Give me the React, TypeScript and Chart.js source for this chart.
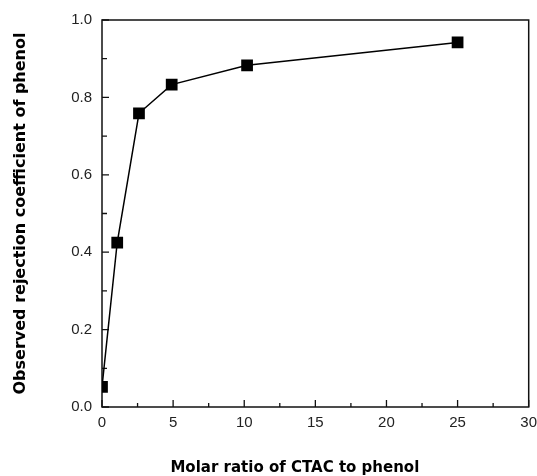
import React, { useEffect, useRef } from "react";
import { Chart, registerables } from "chart.js";

Chart.register(...registerables);

const molarRatio = [0, 1.07, 2.6, 4.9, 10.2, 25];
const rejection = [0.052, 0.425, 0.759, 0.833, 0.883, 0.942];
const xMajorTicks = [0, 5, 10, 15, 20, 25, 30];
const xMinorTicks = [2.5, 7.5, 12.5, 17.5, 22.5, 27.5];
const yMajorTicks = [0, 0.2, 0.4, 0.6, 0.8, 1.0];
const yMinorTicks = [0.1, 0.3, 0.5, 0.7, 0.9];
const xTitle = "Molar ratio of CTAC to phenol";
const yTitle = "Observed rejection coefficient of phenol";

const framePlugin = {
  id: "frameAndTicks",
  beforeDatasetsDraw(chart: any) {
    const { ctx, chartArea: a, scales } = chart;
    const xs = scales.x;
    const ys = scales.y;
    ctx.save();
    ctx.strokeStyle = "#111";
    ctx.lineWidth = 1.5;
    ctx.strokeRect(a.left, a.top, a.right - a.left, a.bottom - a.top);
    ctx.lineWidth = 1.3;
    ctx.beginPath();
    xMajorTicks.forEach((v) => {
      const px = xs.getPixelForValue(v);
      ctx.moveTo(px, a.bottom);
      ctx.lineTo(px, a.bottom - 7);
    });
    xMinorTicks.forEach((v) => {
      const px = xs.getPixelForValue(v);
      ctx.moveTo(px, a.bottom);
      ctx.lineTo(px, a.bottom - 4);
    });
    yMajorTicks.forEach((v) => {
      const py = ys.getPixelForValue(v);
      ctx.moveTo(a.left, py);
      ctx.lineTo(a.left + 7, py);
    });
    yMinorTicks.forEach((v) => {
      const py = ys.getPixelForValue(v);
      ctx.moveTo(a.left, py);
      ctx.lineTo(a.left + 5, py);
    });
    ctx.stroke();
    ctx.restore();
  },
  afterDraw(chart: any) {
    const { ctx, chartArea: a } = chart;
    ctx.save();
    ctx.fillStyle = "#000";
    ctx.font = "bold 15px 'DejaVu Sans'";
    ctx.textAlign = "center";
    ctx.textBaseline = "alphabetic";
    ctx.fillText(xTitle, a.left + (a.right - a.left) * 0.452, 472);
    ctx.restore();
  },
};

export default function App() {
  const ref = useRef<HTMLCanvasElement | null>(null);
  useEffect(() => {
    if (!ref.current) return;
    const chart = new Chart(ref.current, {
      type: "line",
      data: {
        datasets: [
          {
            data: molarRatio.map((x, i) => ({ x, y: rejection[i] })),
            borderColor: "#000",
            borderWidth: 1.5,
            backgroundColor: "#000",
            pointStyle: "rect",
            pointRadius: 8.3,
            pointBorderWidth: 0,
            pointBackgroundColor: "#000",
            tension: 0,
            fill: false,
          },
        ],
      },
      options: {
        animation: false,
        responsive: false,
        devicePixelRatio: 1,
        layout: { padding: { top: 20, right: 7, left: 0, bottom: 0 } },
        plugins: {
          legend: { display: false },
          tooltip: { enabled: false },
        },
        scales: {
          x: {
            type: "linear",
            min: 0,
            max: 30,
            grid: { display: false, drawTicks: false },
            border: { display: false },
            ticks: {
              stepSize: 5,
              padding: 7,
              color: "#222",
              font: { family: "'Liberation Sans'", size: 15 },
              maxRotation: 0,
            },
            afterFit(scale: any) {
              scale.height = 69;
              scale.paddingLeft = 0;
              scale.paddingRight = 0;
            },
          },
          y: {
            type: "linear",
            min: 0,
            max: 1,
            grid: { display: false, drawTicks: false },
            border: { display: false },
            ticks: {
              stepSize: 0.2,
              padding: 10,
              color: "#222",
              font: { family: "'Liberation Sans'", size: 15 },
              callback: (v: any) => Number(v).toFixed(1),
            },
            title: {
              display: true,
              text: yTitle,
              color: "#000",
              font: { family: "'DejaVu Sans'", size: 16, weight: "bold" },
              padding: { top: 11, bottom: 0 },
            },
            afterFit(scale: any) {
              scale.width = 102;
            },
          },
        },
      },
      plugins: [framePlugin],
    });
    return () => chart.destroy();
  }, []);
  return (
    <div style={{ position: "absolute", left: 0, top: 0, width: 537, height: 476, background: "#fff" }}>
      <canvas ref={ref} width={537} height={476} style={{ display: "block" }} />
    </div>
  );
}
